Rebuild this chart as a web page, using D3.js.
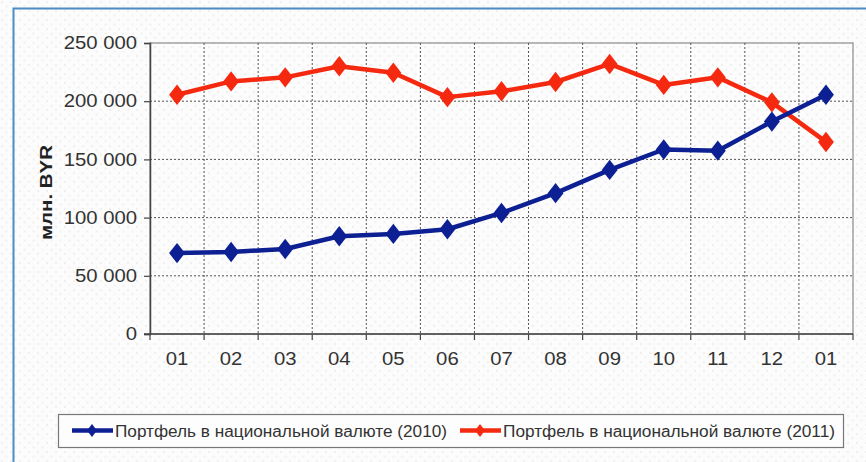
<!DOCTYPE html>
<html>
<head>
<meta charset="utf-8">
<script src="https://cdn.jsdelivr.net/npm/d3@7"></script>
<style>
  body { margin: 0; background: #fff; }
  svg { display: block; font-family: "Liberation Sans", Arial, sans-serif; }
</style>
</head>
<body>
<svg id="chart"></svg>
<script>
// data
const months = ["01", "02", "03", "04", "05", "06", "07", "08", "09", "10", "11", "12", "01"];
const series2010 = [69500, 70500, 73000, 84000, 86000, 90000, 104000, 121000, 141000, 158500, 157500, 182500, 205500];
const series2011 = [205500, 217000, 220500, 230000, 224500, 203500, 208500, 216500, 232000, 214000, 220500, 199000, 165000];
const yTicks = [0, 50000, 100000, 150000, 200000, 250000];
const legendNames = ["Портфель в национальной валюте (2010)", "Портфель в национальной валюте (2011)"];

const width = 866;
const height = 462;
const margin = { top: 43, right: 13, bottom: 128, left: 150 };

// the source picture is a bit wider than tall, so text is stretched sideways
const stretch = 1.16;
function widen(sel, f) {
    sel.each(function () {
        const len = this.getComputedTextLength();
        d3.select(this).attr("textLength", len * f).attr("lengthAdjust", "spacingAndGlyphs");
    });
}

const svg = d3.select("#chart").attr("width", width).attr("height", height);

// dotted paper background
const defs = svg.append("defs");
const pat = defs.append("pattern")
    .attr("id", "dots").attr("width", 9).attr("height", 9)
    .attr("patternUnits", "userSpaceOnUse");
pat.append("rect").attr("width", 9).attr("height", 9).attr("fill", "#fcfcfc");
pat.append("circle").attr("cx", 2).attr("cy", 2).attr("r", 1).attr("fill", "#ececec");
pat.append("circle").attr("cx", 6.5).attr("cy", 6.5).attr("r", 1).attr("fill", "#efefef");
svg.append("rect").attr("width", width).attr("height", height).attr("fill", "url(#dots)");

// blue frame (left + top)
svg.append("path")
    .attr("d", `M13.5,${height} V8.5 H${width}`)
    .attr("fill", "none").attr("stroke", "#4a8cc4").attr("stroke-width", 2);

const x = d3.scaleBand()
    .domain(d3.range(months.length))
    .range([margin.left, width - margin.right])
    .paddingInner(0).paddingOuter(0);

const y = d3.scaleLinear()
    .domain([0, 250000])
    .range([height - margin.bottom, margin.top]);

const fmt = v => d3.format(",")(v).replace(/,/g, " ");

const plot = svg.append("g");

// plot frame: top/right grey
plot.append("rect")
    .attr("x", margin.left).attr("y", margin.top)
    .attr("width", width - margin.right - margin.left)
    .attr("height", y(0) - margin.top)
    .attr("fill", "none").attr("stroke", "#8a8a8a").attr("stroke-width", 1.2);

// horizontal gridlines
plot.selectAll("line.hgrid")
    .data(yTicks.filter(d => d > 0 && d < 250000))
    .join("line")
    .attr("x1", margin.left).attr("x2", width - margin.right)
    .attr("y1", d => y(d)).attr("y2", d => y(d))
    .attr("stroke", "#555").attr("stroke-width", 1).attr("stroke-dasharray", "2,2");

// vertical gridlines
plot.selectAll("line.vgrid")
    .data(d3.range(1, months.length))
    .join("line")
    .attr("x1", d => x(d)).attr("x2", d => x(d))
    .attr("y1", margin.top).attr("y2", y(0))
    .attr("stroke", "#555").attr("stroke-width", 1).attr("stroke-dasharray", "2,2");

// y axis
const yAxis = svg.append("g")
    .attr("transform", `translate(${margin.left},0)`)
    .call(d3.axisLeft(y).tickValues(yTicks).tickFormat(fmt).tickSize(6).tickPadding(7));
yAxis.select(".domain").attr("stroke", "#444").attr("stroke-width", 1.5);
yAxis.selectAll(".tick line").attr("stroke", "#444").attr("stroke-width", 1.2);
yAxis.selectAll("text").attr("font-size", 17.5).attr("fill", "#333").attr("font-family", null).call(widen, stretch);

// x axis: ticks at band edges, labels centred
const xEdges = d3.range(months.length + 1).map(i => i < months.length ? x(i) : x(months.length - 1) + x.bandwidth());
const xAxisG = svg.append("g");
xAxisG.append("line")
    .attr("x1", margin.left - 6).attr("x2", width - margin.right)
    .attr("y1", y(0)).attr("y2", y(0))
    .attr("stroke", "#444").attr("stroke-width", 1.5);
xAxisG.selectAll("line.xt")
    .data(xEdges)
    .join("line")
    .attr("x1", d => d).attr("x2", d => d)
    .attr("y1", y(0)).attr("y2", y(0) + 6)
    .attr("stroke", "#444").attr("stroke-width", 1.2);
xAxisG.selectAll("text")
    .data(months)
    .join("text")
    .attr("x", (d, i) => x(i) + x.bandwidth() / 2)
    .attr("y", y(0) + 31)
    .attr("text-anchor", "middle")
    .attr("font-size", 17.5).attr("fill", "#333")
    .text(d => d)
    .call(widen, stretch);

// y label
svg.append("text")
    .attr("transform", `translate(52,${(margin.top + y(0)) / 2 + 4}) rotate(-90)`)
    .attr("text-anchor", "middle")
    .attr("font-size", 16.5).attr("font-weight", "bold").attr("fill", "#222")
    .attr("textLength", 95).attr("lengthAdjust", "spacingAndGlyphs")
    .text("млн. BYR");

// lines + diamond markers (slightly wider than d3's default diamond)
const line = d3.line()
    .x((d, i) => x(i) + x.bandwidth() / 2)
    .y(d => y(d));

const diamond = d3.symbol().type(d3.symbolDiamond).size(120);

function drawSeries(values, color) {
    svg.append("path")
        .datum(values)
        .attr("d", line)
        .attr("fill", "none")
        .attr("stroke", color)
        .attr("stroke-width", 4.5)
        .attr("stroke-linejoin", "round");
    svg.append("g").selectAll("path")
        .data(values)
        .join("path")
        .attr("d", diamond)
        .attr("transform", (d, i) => `translate(${x(i) + x.bandwidth() / 2},${y(d)}) scale(1.35,1)`)
        .attr("fill", color);
}

drawSeries(series2011, "#f5290f");
drawSeries(series2010, "#0c1f93");

// legend
const legend = svg.append("g");
legend.append("rect")
    .attr("x", 58.5).attr("y", 414.5).attr("width", 785).attr("height", 33)
    .attr("fill", "#fdfdfd").attr("stroke", "#777").attr("stroke-width", 1.2);

const legendItems = [
    { name: legendNames[0], color: "#0c1f93", x: 72 },
    { name: legendNames[1], color: "#f5290f", x: 460 }
];
legendItems.forEach(it => {
    legend.append("line")
        .attr("x1", it.x).attr("x2", it.x + 41)
        .attr("y1", 430.5).attr("y2", 430.5)
        .attr("stroke", it.color).attr("stroke-width", 4.5);
    legend.append("path")
        .attr("d", d3.symbol().type(d3.symbolDiamond).size(50))
        .attr("transform", `translate(${it.x + 20},430.5) scale(1.3,1)`)
        .attr("fill", it.color);
    legend.append("text")
        .attr("x", it.x + 43).attr("y", 436.5)
        .attr("font-size", 16).attr("fill", "#333")
        .attr("textLength", 332).attr("lengthAdjust", "spacingAndGlyphs")
        .text(it.name);
});
</script>
</body>
</html>
